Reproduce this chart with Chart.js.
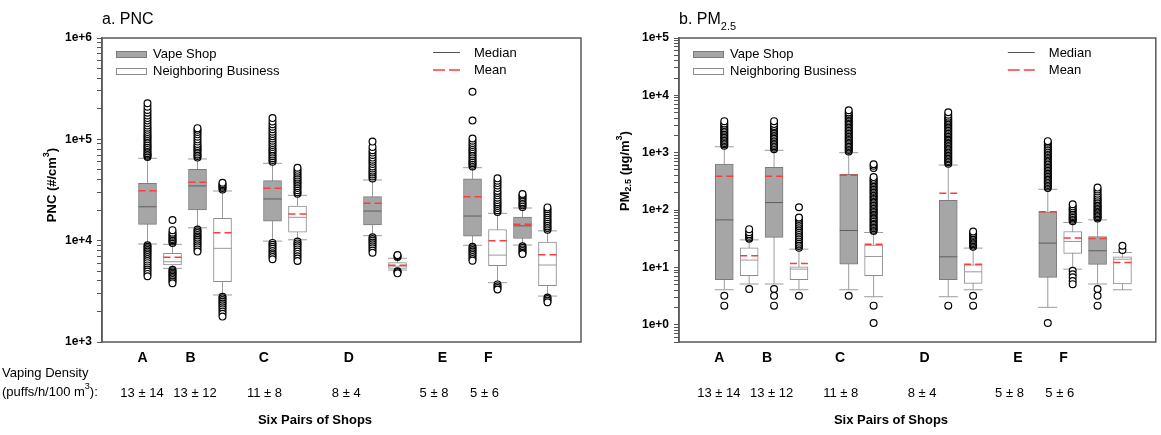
<!DOCTYPE html>
<html lang="en">
<head>
<meta charset="UTF-8">
<title>PNC and PM2.5 in six pairs of shops</title>
<script src="https://cdn.jsdelivr.net/npm/chart.js"></script>
<style>
  body { margin: 0; background: #fff; }
  #wrap { position: relative; width: 1161px; height: 435px; }
  canvas { position: absolute; top: 0; }
</style>
</head>
<body>
<div id="wrap">
  <canvas id="pncChart" width="590" height="435" style="left:0"></canvas>
  <canvas id="pmChart" width="571" height="435" style="left:590px"></canvas>
</div>
<script>
// shop pairs, where they sit on the x axis
var shops = ['A', 'B', 'C', 'D', 'E', 'F'];
var densities = ['13 \u00b1 14', '13 \u00b1 12', '11 \u00b1 8', '8 \u00b1 4', '5 \u00b1 8', '5 \u00b1 6'];
var vapeSlots = [1, 3, 6, 10, 14, 16];
var neighborSlots = [2, 4, 7, 11, 15, 17];
var shopLabelSlots = [0.8, 2.72, 5.65, 9.05, 12.8, 14.63];
var densityLabelSlots = [0.78, 2.9, 5.68, 8.95, 12.46, 14.48];

// box stats: [lower whisker, q1, median, q3, upper whisker]
var pncVapeBox = [
  [9270, 14500, 21600, 36800, 65000],
  [13400, 20100, 34700, 50600, 64000],
  [9900, 15600, 25800, 39100, 58000],
  [11200, 14300, 19600, 27200, 39700],
  [9000, 11100, 17500, 40700, 52500],
  [9060, 10500, 14000, 17100, 21000]
];
var pncVapeMean = [31100, 37700, 32900, 23400, 27200, 14500];
var pncNeighborBox = [
  [5330, 5750, 6200, 7500, 9200],
  [2910, 3940, 8400, 16600, 30900],
  [10200, 12100, 17000, 22000, 28000],
  [5130, 5330, 5600, 6070, 6700],
  [3850, 5670, 7200, 12900, 18600],
  [2840, 3600, 5750, 9700, 12500]
];
var pncNeighborMean = [6850, 12000, 18300, 5710, 10000, 7270];

var pncVapeOutliers = [
  [67000, 69000, 71000, 73000, 76000, 79000, 82000, 85000, 88000, 92000, 96000, 100000, 104000, 108000, 113000, 118000, 124000, 130000, 137000, 145000, 153000, 162000, 172000, 183000, 195000, 210000, 227000,
   9000, 8700, 8400, 8100, 7800, 7500, 7200, 6900, 6600, 6300, 6000, 5700, 5450, 5200, 4950, 4700, 4450],
  [66000, 68500, 71000, 74000, 77000, 80000, 83000, 86000, 90000, 95000, 100000, 106000, 112000, 118000, 124000, 129000,
   12900, 12400, 11900, 11400, 11000, 10600, 10200, 9800, 9400, 9000, 8600, 8200, 7800],
  [60000, 62500, 65000, 68000, 71000, 74000, 77000, 80000, 84000, 88000, 92000, 97000, 102000, 107000, 113000, 119000, 126000, 133000, 141000, 150000, 162000,
   9500, 9100, 8700, 8300, 7900, 7500, 7200, 6900, 6550],
  [41000, 43000, 45000, 47000, 49000, 51500, 54000, 57000, 60000, 63000, 66000, 70000, 74000, 78000, 84000, 95000,
   10800, 10400, 10000, 9600, 9200, 8800, 8400, 8000, 7600],
  [54000, 56000, 58000, 60000, 62500, 65000, 68000, 71000, 74000, 77000, 80000, 84000, 88000, 92000, 97000, 102000, 153000, 295000,
   8700, 8400, 8100, 7800, 7500, 7200, 6900, 6600, 6350],
  [21500, 22300, 23100, 24000, 25000, 26000, 27000, 28000, 28900,
   8800, 8500, 8200, 7900, 7600, 7380]
];
var pncNeighborOutliers = [
  [9500, 9800, 10100, 10400, 10800, 11200, 11600, 12000, 12700, 16000,
   5150, 5000, 4850, 4700, 4550, 4400, 4250, 4100, 3950, 3800],
  [32000, 33000, 34000, 35000, 36000, 37300,
   2800, 2700, 2600, 2500, 2400, 2300, 2200, 2100, 2000, 1900, 1780],
  [29000, 30000, 31500, 33000, 34500, 36000, 37500, 39000, 40500, 42000, 44000, 46000, 48000, 50000, 52500,
   9800, 9400, 9000, 8600, 8200, 7800, 7400, 7000, 6650, 6300],
  [6900, 7050, 7200,
   5000, 4900, 4760],
  [19200, 20000, 21000, 22000, 23000, 24000, 25200, 26500, 28000, 29500, 31000, 33000, 35000, 37000, 39000, 41200,
   3700, 3550, 3420, 3300],
  [12800, 13300, 13800, 14400, 15000, 15600, 16300, 17000, 17800, 18600, 19500, 20400, 21300,
   2750, 2650, 2560, 2470]
];

var pmVapeBox = [
  [4.07, 6.08, 67.3, 634, 1270],
  [5.13, 33.3, 135, 555, 1100],
  [4.07, 11.4, 44, 420, 1000],
  [3.08, 6.08, 15.3, 148, 608],
  [2.01, 6.7, 26.5, 92.7, 230],
  [5.13, 11.3, 19.5, 34.6, 67.3]
];
var pmVapeMean = [387, 387, 403, 196, 93, 31.9];
var pmNeighborBox = [
  [5.13, 7.14, 13.4, 21.9, 30.2],
  [4.07, 6.08, 9.33, 10.2, 20.8],
  [3.08, 7.14, 15.5, 24.4, 40.6],
  [4.07, 5.27, 8.37, 11.1, 21.7],
  [9.33, 17.5, 28.3, 42.3, 60.7],
  [4.07, 5.13, 13.9, 15.3, 18.2]
];
var pmNeighborMean = [15.9, 11.7, 25.4, 11.4, 32.7, 12.2];

var pmVapeOutliers = [
  [1320, 1400, 1480, 1570, 1660, 1760, 1870, 1980, 2100, 2230, 2370, 2520, 2680, 2850, 3030, 3230, 3550,
   3.2, 2.15],
  [1150, 1220, 1300, 1380, 1470, 1560, 1660, 1770, 1880, 2000, 2130, 2270, 2420, 2580, 2750, 2930, 3150, 3550,
   4.2, 3.2, 2.15],
  [1050, 1110, 1170, 1240, 1310, 1390, 1470, 1560, 1650, 1750, 1850, 1960, 2080, 2200, 2330, 2470, 2620, 2780, 2950, 3130, 3320, 3520, 3740, 3970, 4210, 4470, 4740, 5030, 5500,
   3.2],
  [640, 680, 720, 765, 810, 860, 910, 965, 1020, 1080, 1150, 1220, 1290, 1370, 1450, 1540, 1630, 1730, 1840, 1950, 2070, 2190, 2330, 2470, 2620, 2780, 2950, 3130, 3320, 3520, 3740, 3970, 4250, 4600, 5080,
   2.15],
  [242, 257, 273, 290, 308, 327, 347, 368, 391, 415, 440, 467, 496, 526, 558, 592, 628, 667, 708, 751, 797, 846, 898, 953, 1010, 1075, 1140, 1210, 1290, 1390, 1490, 1590,
   1.07],
  [71, 75, 79, 83.5, 88, 93, 98, 104, 110, 116, 123, 130, 138, 146, 155, 165, 178, 192, 210, 228, 246,
   4.2, 3.2, 2.15]
];
var pmNeighborOutliers = [
  [31.5, 33.3, 35.5, 38, 41, 46.4,
   4.2],
  [22, 23.5, 25, 27, 29, 31, 33.5, 36, 39, 42, 45, 48.5, 52, 56, 60, 65, 70, 74, 112,
   3.2],
  [43, 45.5, 48, 51, 54, 57, 60.5, 64, 68, 72, 76, 81, 86, 91, 96, 102, 108, 115, 122, 129, 137, 145, 154, 163, 173, 183, 194, 206, 218, 231, 245, 260, 276, 293, 310, 330, 350, 375, 540, 590, 627,
   2.15, 1.07],
  [22.8, 24, 25.3, 26.7, 28.2, 29.8, 31.5, 33.3, 35.2, 37.2, 39.5, 42.3,
   3.2, 2.15],
  [64, 67.5, 71, 75, 79, 84, 89, 95, 101, 108, 116, 126,
   8.7, 7.6, 6.7, 5.8, 5.1],
  [20.2, 23.8]
];

// y axis tick labels (decades only)
var pncTickValues = [1e3, 1e4, 1e5, 1e6];
var pncTickLabels = ['1e+3', '1e+4', '1e+5', '1e+6'];
var pmTickValues = [1, 10, 100, 1e3, 1e4, 1e5];
var pmTickLabels = ['1e+0', '1e+1', '1e+2', '1e+3', '1e+4', '1e+5'];

Chart.defaults.font.family = 'Arial, "Liberation Sans", sans-serif';
Chart.defaults.color = '#000';
var FAMILY = Chart.defaults.font.family;

// minor + major ticks for a log axis
function logTicks(min, max) {
  var out = [];
  var top = Math.round(Math.log10(max));
  for (var e = Math.floor(Math.log10(min)); e <= top; e++) {
    for (var m = 1; m < 10; m++) {
      var v = Number((m * Math.pow(10, e)).toPrecision(3));
      if (v >= min && v <= max) out.push(v);
    }
  }
  return out;
}

function boxData(boxes, slots) {
  return boxes.map(function(b, i) { return { x: slots[i], y: [b[1], b[3]] }; });
}
function whiskerPoints(boxes, slots) {
  var pts = [];
  boxes.forEach(function(b, i) {
    pts.push({ x: slots[i], y: b[0] }, { x: slots[i], y: b[4] }, { x: slots[i], y: null });
  });
  return pts;
}
function levelPoints(values, slots, half) {
  var pts = [];
  values.forEach(function(v, i) {
    pts.push({ x: slots[i] - half, y: v }, { x: slots[i] + half, y: v }, { x: slots[i], y: null });
  });
  return pts;
}
function outlierPoints(lists, slots) {
  var pts = [];
  lists.forEach(function(list, i) {
    list.forEach(function(v) { pts.push({ x: slots[i], y: v }); });
  });
  return pts;
}

// draws text made of pieces (for sub/superscripts)
function drawParts(ctx, parts, x, y, align) {
  var total = 0;
  parts.forEach(function(p) { ctx.font = p.font; p.w = ctx.measureText(p.text).width; total += p.w; });
  var cx = align === 'center' ? x - total / 2 : x;
  ctx.textAlign = 'left';
  ctx.textBaseline = 'middle';
  parts.forEach(function(p) { ctx.font = p.font; ctx.fillText(p.text, cx, y + (p.dy || 0)); cx += p.w; });
}

function buildPanel(id, p) {
  var boxHalf = 0.36, capHalf = 0.38;
  var caps = function(boxes, slots) {
    return levelPoints(boxes.map(function(b) { return b[0]; }), slots, capHalf)
      .concat(levelPoints(boxes.map(function(b) { return b[4]; }), slots, capHalf));
  };

  var decor = {
    id: 'decor',
    afterDraw: function(chart) {
      var ctx = chart.ctx, a = chart.chartArea;
      ctx.save();
      // frame
      ctx.strokeStyle = '#5a5a5a';
      ctx.lineWidth = 1.5;
      ctx.strokeRect(a.left, a.top, a.right - a.left, a.bottom - a.top);
      ctx.fillStyle = '#000';
      // panel title
      drawParts(ctx, p.title, a.left, 20, 'left');
      // y title, rotated
      ctx.save();
      ctx.translate(p.yTitleX, p.yTitleY);
      ctx.rotate(-Math.PI / 2);
      drawParts(ctx, p.yTitle, 0, 0, 'center');
      ctx.restore();
      // legend, left group
      var f13 = '13px ' + FAMILY;
      ctx.lineWidth = 1;
      ctx.fillStyle = '#a6a6a6'; ctx.strokeStyle = '#7b7b7b';
      ctx.fillRect(a.left + 14, 51, 30, 6); ctx.strokeRect(a.left + 14.5, 51.5, 30, 6);
      ctx.fillStyle = '#fff'; ctx.strokeStyle = '#8c8c8c';
      ctx.fillRect(a.left + 14, 68, 30, 6); ctx.strokeRect(a.left + 14.5, 68.5, 30, 6);
      ctx.fillStyle = '#000';
      drawParts(ctx, [{ text: 'Vape Shop', font: f13 }], a.left + 51, 54, 'left');
      drawParts(ctx, [{ text: 'Neighboring Business', font: f13 }], a.left + 51, 71, 'left');
      // legend, right group
      ctx.strokeStyle = '#555';
      ctx.beginPath(); ctx.moveTo(a.right - 148, 52.5); ctx.lineTo(a.right - 121, 52.5); ctx.stroke();
      ctx.strokeStyle = '#ff3b3b'; ctx.lineWidth = 1.5;
      ctx.setLineDash([12, 4]);
      ctx.beginPath(); ctx.moveTo(a.right - 148, 70); ctx.lineTo(a.right - 121, 70); ctx.stroke();
      ctx.setLineDash([]);
      drawParts(ctx, [{ text: 'Median', font: f13 }], a.right - 107, 53, 'left');
      drawParts(ctx, [{ text: 'Mean', font: f13 }], a.right - 107, 70, 'left');
      // x axis title
      drawParts(ctx, [{ text: 'Six Pairs of Shops', font: 'bold 13px ' + FAMILY }],
        chart.scales.x.getPixelForValue(7.7), 420, 'center');
      if (p.densityNote) {
        drawParts(ctx, [{ text: 'Vaping Density', font: f13 }], 2, 373, 'left');
        drawParts(ctx, [
          { text: '(puffs/h/100 m', font: f13 },
          { text: '3', font: '9px ' + FAMILY, dy: -5 },
          { text: '):', font: f13 }
        ], 2, 392, 'left');
      }
      ctx.restore();
    }
  };

  new Chart(document.getElementById(id), {
    type: 'bar',
    data: {
      datasets: [
        { type: 'line', label: 'Whiskers', order: 6,
          data: whiskerPoints(p.vapeBox, vapeSlots).concat(whiskerPoints(p.neighborBox, neighborSlots)),
          borderColor: '#9c9c9c', borderWidth: 1, pointRadius: 0 },
        { type: 'bar', label: 'Vape Shop', order: 5, data: boxData(p.vapeBox, vapeSlots),
          backgroundColor: '#a6a6a6', borderColor: '#7b7b7b', borderWidth: 1, borderSkipped: false,
          barThickness: 18, grouped: false },
        { type: 'bar', label: 'Neighboring Business', order: 5, data: boxData(p.neighborBox, neighborSlots),
          backgroundColor: '#ffffff', borderColor: '#8c8c8c', borderWidth: 1, borderSkipped: false,
          barThickness: 18, grouped: false },
        { type: 'line', label: 'Caps', order: 4,
          data: caps(p.vapeBox, vapeSlots).concat(caps(p.neighborBox, neighborSlots)),
          borderColor: '#9c9c9c', borderWidth: 1, pointRadius: 0 },
        { type: 'line', label: 'Median', order: 3,
          data: levelPoints(p.vapeBox.map(function(b) { return b[2]; }), vapeSlots, boxHalf),
          borderColor: '#5e5e5e', borderWidth: 1, pointRadius: 0 },
        { type: 'line', label: 'Median (neighbor)', order: 3,
          data: levelPoints(p.neighborBox.map(function(b) { return b[2]; }), neighborSlots, boxHalf),
          borderColor: '#9a9a9a', borderWidth: 1, pointRadius: 0 },
        { type: 'line', label: 'Mean', order: 2,
          data: levelPoints(p.vapeMean, vapeSlots, boxHalf).concat(levelPoints(p.neighborMean, neighborSlots, boxHalf)),
          borderColor: '#ff3b3b', borderWidth: 1.5, borderDash: [7, 4], pointRadius: 0 },
        { type: 'line', label: 'Outliers', order: 1, showLine: false,
          data: outlierPoints(p.vapeOut, vapeSlots).concat(outlierPoints(p.neighborOut, neighborSlots)),
          pointRadius: 3.4, pointBorderColor: '#000', pointBackgroundColor: '#fff', pointBorderWidth: 1.2 }
      ]
    },
    options: {
      responsive: false,
      animation: false,
      events: [],
      layout: { padding: { left: 0, right: p.padRight, top: 38, bottom: 33 } },
      plugins: { legend: { display: false }, tooltip: { enabled: false } },
      scales: {
        x: {
          type: 'linear', position: 'bottom', weight: 0, min: -0.82, max: 18.34, offset: false,
          grid: { display: false, drawTicks: false }, border: { display: false },
          afterBuildTicks: function(s) { s.ticks = shopLabelSlots.map(function(v) { return { value: v }; }); },
          afterFit: function(s) { s.height = 28; },
          ticks: { autoSkip: false, maxRotation: 0, padding: 8, font: { size: 14, weight: 'bold' },
            callback: function(v, i) { return shops[i]; } }
        },
        x2: {
          type: 'linear', position: 'bottom', weight: 1, min: -0.82, max: 18.34, offset: false,
          grid: { display: false, drawTicks: false }, border: { display: false },
          afterBuildTicks: function(s) { s.ticks = densityLabelSlots.map(function(v) { return { value: v }; }); },
          afterFit: function(s) { s.height = 32; },
          ticks: { autoSkip: false, maxRotation: 0, padding: 16, font: { size: 13 },
            callback: function(v, i) { return densities[i]; } }
        },
        y: {
          type: 'logarithmic', min: p.yMin, max: p.yMax,
          afterBuildTicks: function(s) { s.ticks = logTicks(p.yMin, p.yMax).map(function(v) { return { value: v }; }); },
          afterFit: function(s) { s.width = p.yWidth; },
          grid: { display: true, drawOnChartArea: false, drawTicks: true, tickLength: 5, color: '#555' },
          border: { display: true, color: '#5a5a5a', width: 1.5 },
          ticks: { autoSkip: false, padding: 5, font: { size: 12, weight: 'bold' },
            callback: function(v) {
              var k = p.tickValues.indexOf(v);
              return k >= 0 ? p.tickLabels[k] : '';
            } }
        }
      }
    },
    plugins: [decor]
  });
}

buildPanel('pncChart', {
  vapeBox: pncVapeBox, vapeMean: pncVapeMean, vapeOut: pncVapeOutliers,
  neighborBox: pncNeighborBox, neighborMean: pncNeighborMean, neighborOut: pncNeighborOutliers,
  yMin: 1e3, yMax: 1e6, tickValues: pncTickValues, tickLabels: pncTickLabels,
  yWidth: 102, padRight: 9, yTitleX: 52, yTitleY: 185, densityNote: true,
  title: [{ text: 'a. PNC', font: '16px ' + FAMILY }],
  yTitle: [
    { text: 'PNC (#/cm', font: 'bold 13px ' + FAMILY },
    { text: '3', font: 'bold 9px ' + FAMILY, dy: -5 },
    { text: ')', font: 'bold 13px ' + FAMILY }
  ]
});

buildPanel('pmChart', {
  vapeBox: pmVapeBox, vapeMean: pmVapeMean, vapeOut: pmVapeOutliers,
  neighborBox: pmNeighborBox, neighborMean: pmNeighborMean, neighborOut: pmNeighborOutliers,
  yMin: 0.5, yMax: 1e5, tickValues: pmTickValues, tickLabels: pmTickLabels,
  yWidth: 89, padRight: 3, yTitleX: 35, yTitleY: 171, densityNote: false,
  title: [
    { text: 'b. PM', font: '16px ' + FAMILY },
    { text: '2.5', font: '11px ' + FAMILY, dy: 7 }
  ],
  yTitle: [
    { text: 'PM', font: 'bold 13px ' + FAMILY },
    { text: '2.5', font: 'bold 9px ' + FAMILY, dy: 4 },
    { text: ' (\u00b5g/m', font: 'bold 13px ' + FAMILY },
    { text: '3', font: 'bold 9px ' + FAMILY, dy: -5 },
    { text: ')', font: 'bold 13px ' + FAMILY }
  ]
});
</script>
</body>
</html>
